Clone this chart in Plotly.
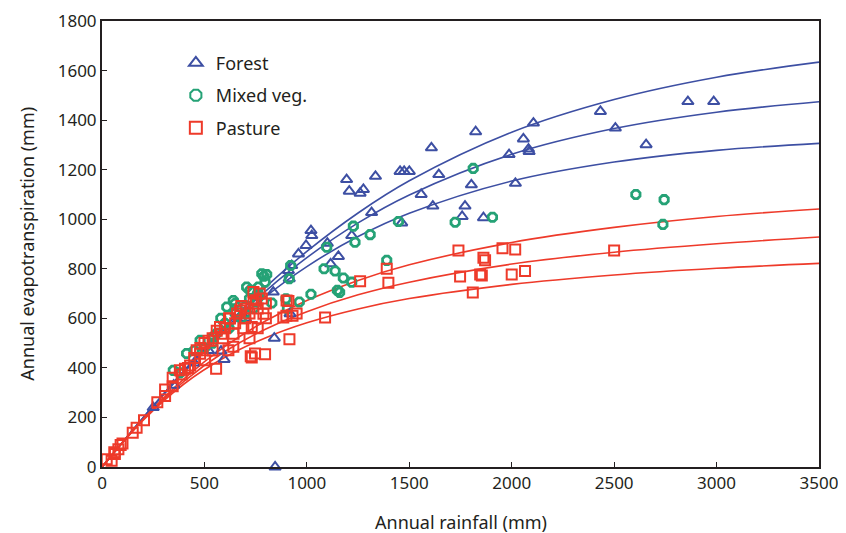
import plotly.graph_objects as go

forest_p = [845, 596, 581, 250, 350, 450, 520, 700, 760, 841, 836, 918, 910, 914, 926, 959, 996, 1020, 1024,
            1100, 1116, 1154, 1219, 1194, 1207, 1260, 1276, 1316, 1335, 1455, 1475, 1500, 1463, 1558, 1608,
            1615, 1644, 1758, 1772, 1803, 1824, 1862, 1987, 2018, 2057, 2082, 2085, 2106, 2433, 2506, 2656,
            2860, 2986]
forest_et = [0, 434, 468, 240, 330, 420, 470, 600, 690, 520, 706, 619, 793, 760, 813, 860, 894, 954, 934,
             903, 820, 850, 934, 1160, 1113, 1105, 1120, 1027, 1173, 1193, 1193, 1193, 985, 1100, 1288,
             1053, 1180, 1011, 1053, 1139, 1353, 1006, 1261, 1145, 1324, 1283, 1273, 1388, 1435, 1368, 1301,
             1475, 1475]

mixed_p = [1812, 1227, 1235, 1309, 1447, 1724, 1906, 1097, 2606, 2744, 2738, 1390, 1084, 1138, 1178, 1219,
           1149, 1160, 1020, 963, 921, 914, 804, 796, 829, 898, 905, 763, 755, 723, 706, 641, 609, 543, 479,
           413, 348, 560, 600, 650, 700, 720, 760, 780, 790, 680, 620, 580, 540, 650, 700, 740, 770, 450,
           500, 380]
mixed_et = [1205, 972, 907, 938, 991, 988, 1008, 887, 1100, 1079, 979, 834, 800, 791, 763, 746,
            713, 705, 697, 666, 813, 760, 777, 746, 662, 679, 639, 726, 666, 713, 726, 672, 646, 525, 511,
            458, 390, 540, 580, 620, 650, 680, 700, 780, 770, 600, 560, 600, 500, 660, 620, 640, 690, 470,
            480, 380]

pasture_p = [23, 47, 63, 80, 91, 150, 169, 205, 270, 308, 308, 345, 345, 389, 405, 462, 479, 503, 557, 576,
             584, 625, 642, 674, 731, 739, 747, 731, 752, 796, 788, 726, 617, 641, 885, 901, 910, 915, 1089,
             1260, 1390, 1398, 1740, 1748, 1810, 1846, 1854, 1862, 1870, 1955, 2017, 2000, 2065, 2500,
             480, 500, 520, 540, 560, 600, 620, 650, 660, 680, 700, 700, 720, 740, 760, 770, 780, 800, 800,
             690, 720, 760, 540, 590, 430, 450, 380, 420, 60, 100, 900, 930, 950]
pasture_et = [31, 25, 52, 72, 89, 138, 158, 189, 261, 287, 313, 326, 360, 373, 397, 471, 457, 431, 397, 565,
              538, 599, 538, 632, 565, 706, 458, 442, 673, 455, 619, 447, 471, 485, 603, 672, 670, 516, 603,
              750, 800, 744, 874, 769, 704, 777, 773, 845, 834, 883, 878, 777, 791, 874,
              480, 500, 510, 520, 550, 560, 600, 580, 620, 650, 640, 600, 620, 660, 640, 700, 680, 660, 600,
              560, 520, 560, 470, 520, 410, 440, 390, 400, 60, 95, 610, 610, 620]

# ---- Curves (at sample rainfall values) ----
curve_p = [0, 200, 400, 600, 800, 1000, 1250, 1500, 2000, 2500, 3000, 3500]
forest_hi = [0, 198, 389, 566, 727, 870, 1025, 1155, 1351, 1483, 1573, 1634]
forest_mid = [0, 198, 386, 558, 711, 845, 985, 1098, 1262, 1366, 1432, 1474]
forest_lo = [0, 198, 382, 547, 689, 809, 930, 1024, 1154, 1231, 1278, 1306]
pasture_hi = [0, 193, 356, 487, 590, 672, 753, 816, 906, 967, 1011, 1041]
pasture_mid = [0, 191, 346, 466, 557, 627, 695, 746, 819, 867, 901, 928]
pasture_lo = [0, 188, 335, 443, 522, 582, 638, 680, 737, 775, 802, 822]

x_ticks = [0, 500, 1000, 1500, 2000, 2500, 3000, 3500]
y_ticks = [0, 200, 400, 600, 800, 1000, 1200, 1400, 1600, 1800]

BLUE = "#3d4fa3"
GREEN = "#25a276"
RED = "#ee3a2a"
INK = "#231f20"

fig = go.Figure()

for ys in (forest_hi, forest_mid, forest_lo):
    fig.add_trace(go.Scatter(x=curve_p, y=ys, mode="lines", line=dict(color=BLUE, width=1.6, shape="spline"),
                             showlegend=False, hoverinfo="skip"))
for ys in (pasture_hi, pasture_mid, pasture_lo):
    fig.add_trace(go.Scatter(x=curve_p, y=ys, mode="lines", line=dict(color=RED, width=1.6, shape="spline"),
                             showlegend=False, hoverinfo="skip"))

fig.add_trace(go.Scatter(x=forest_p, y=forest_et, mode="markers", name="Forest", legendgroup="f",
                         marker=dict(symbol="triangle-up-open", size=10, color=BLUE, line=dict(width=2, color=BLUE)),
                         cliponaxis=False))
fig.add_trace(go.Scatter(x=mixed_p, y=mixed_et, mode="markers", name="Mixed veg.", legendgroup="m",
                         marker=dict(symbol="octagon-open", size=9, color=GREEN, line=dict(width=2.8, color=GREEN)),
                         cliponaxis=False))
fig.add_trace(go.Scatter(x=pasture_p, y=pasture_et, mode="markers", name="Pasture", legendgroup="p",
                         marker=dict(symbol="square-open", size=10, color=RED, line=dict(width=2, color=RED)),
                         cliponaxis=False))

FONT = "Noto Sans"
fig.update_layout(
    width=838, height=525,
    margin=dict(l=94, r=27, t=13, b=66, autoexpand=False),
    paper_bgcolor="white", plot_bgcolor="white",
    font=dict(family=FONT, size=17, color=INK),
    showlegend=True,
    legend=dict(x=0.103, y=0.947, xanchor="left", yanchor="top", bgcolor="rgba(0,0,0,0)",
                font=dict(size=18), tracegroupgap=6, itemsizing="constant"),
    xaxis=dict(range=[0, 3500], tickvals=x_ticks, automargin=False,
               showgrid=False, zeroline=False, showline=True, linecolor=INK, linewidth=2,
               mirror=True, ticks="inside", ticklen=5, tickcolor=INK,
               tickfont=dict(size=17)),
    yaxis=dict(range=[0, 1800], tickvals=y_ticks, automargin=False,
               showgrid=False, zeroline=False, showline=True, linecolor=INK, linewidth=2,
               mirror=True, ticks="inside", ticklen=5, tickcolor=INK,
               tickfont=dict(size=17)),
    annotations=[
        dict(text="Annual rainfall (mm)", xref="paper", yref="paper", x=0.5, y=-0.123,
             xanchor="center", yanchor="middle", showarrow=False, font=dict(size=18)),
        dict(text="Annual evapotranspiration (mm)", xref="paper", yref="paper", x=-0.105, y=0.5,
             xanchor="center", yanchor="middle", textangle=-90, showarrow=False, font=dict(size=18)),
    ],
)

fig.write_html("out.html")
